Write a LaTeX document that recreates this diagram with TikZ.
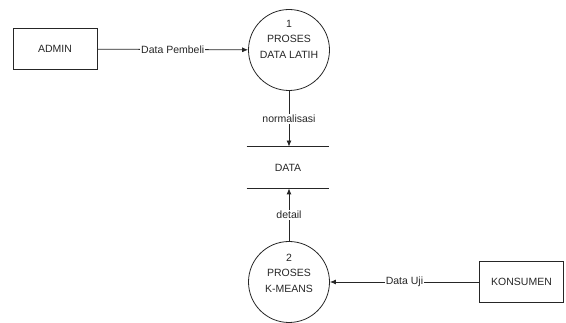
\documentclass[tikz,border=0pt]{standalone}
\usepackage{fontspec}
\setmainfont{Liberation Sans}
\usetikzlibrary{arrows.meta}

\begin{document}
\begin{tikzpicture}[x = 1pt, y = 1pt, font = \fontsize{10.5}{15.5}\selectfont,
    line width = 0.8pt, color = black!85,
    entity/.style = {draw, minimum width = 84pt, minimum height = 41pt},
    proc/.style = {draw, circle, minimum size = 81pt},
    proctext/.style = {align = center},
    flow/.style = {-{Latex[length = 6pt, width = 5pt]}},
    lbl/.style = {fill = white, inner sep = 1pt}]
        \useasboundingbox (0,0) rectangle (566,323);
        \node[entity] (admin) at (55,274) {ADMIN};
        \node[entity] (konsumen) at (521.5,41) {KONSUMEN};
        \node[proc] (p1) at (289,273) {};
        \node[proctext] (t1) at ([yshift = 11]p1.center) {1\\PROSES\\DATA LATIH};
        \node[proc] (p2) at (289,41) {};
        \node[proctext] (t2) at ([yshift = 9]p2.center) {2\\PROSES\\K-MEANS};
        \node[minimum width = 82pt, minimum height = 41pt] (data) at (288,155.5) {DATA};
        \draw (data.north west) -- (data.north east);
        \draw (data.south west) -- (data.south east);
        \draw[flow] (admin) -- node[lbl] {Data Pembeli} (p1);
        \draw[flow] (p1) -- node[lbl] {normalisasi} (p1 |- data.north);
        \draw[flow] (p2) -- node[lbl] {detail} (p2 |- data.south);
        \draw[flow] (konsumen) -- node[lbl] {Data Uji} (p2);
\end{tikzpicture}
\end{document}
